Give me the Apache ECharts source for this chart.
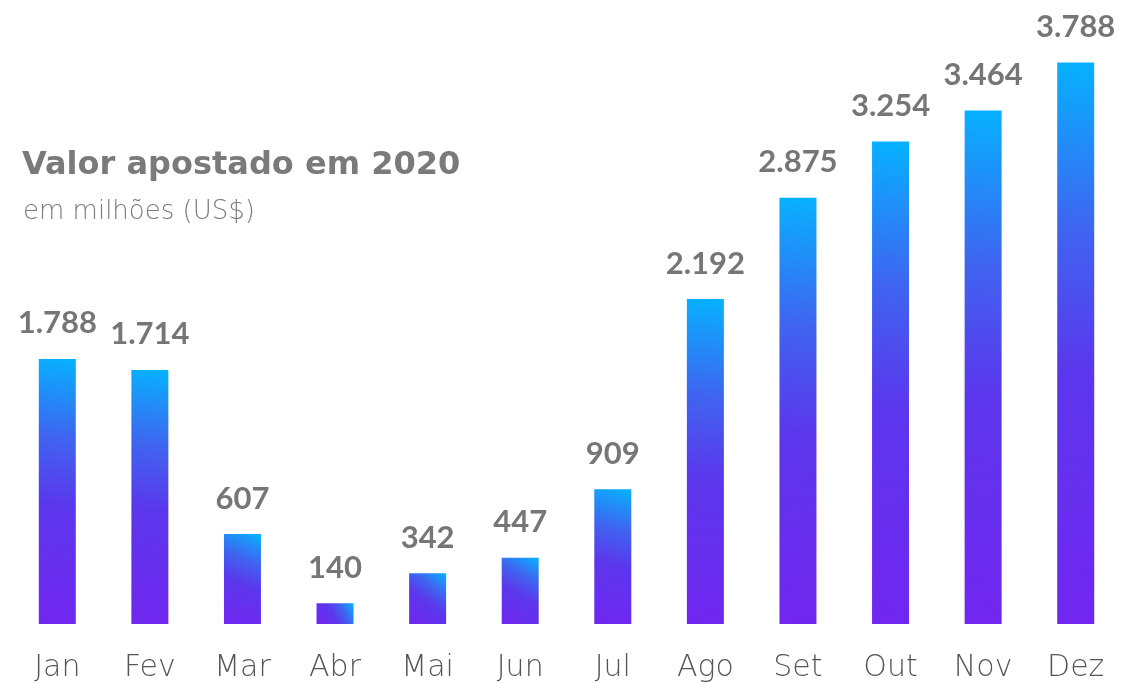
<!DOCTYPE html>
<html>
<head>
<meta charset="utf-8">
<script src="https://cdn.jsdelivr.net/npm/echarts@6/dist/echarts.min.js"></script>
<style>
  html, body { margin: 0; padding: 0; background: #fff; }
  #chart { width: 1122px; height: 683px; }
</style>
</head>
<body>
<div id="chart"></div>
<script>
const months = ['Jan', 'Fev', 'Mar', 'Abr', 'Mai', 'Jun', 'Jul', 'Ago', 'Set', 'Out', 'Nov', 'Dez'];
const valores = [1788, 1714, 607, 140, 342, 447, 909, 2192, 2875, 3254, 3464, 3788];

const chart = echarts.init(document.getElementById('chart'), null, { renderer: 'canvas' });

// thousands with a dot, like the original (1.788)
function fmt(v) {
  return String(v).replace(/\B(?=(\d{3})+(?!\d))/g, '.');
}

const thin = "'DejaVu Sans ExtraLight', 'DejaVu Sans'";

const option = {
  animation: false,
  title: [{
    text: 'Valor apostado em 2020',
    left: 17,
    top: 145,
    textStyle: { fontFamily: 'DejaVu Sans', fontWeight: 'bold', fontSize: 32, color: '#7a7a7a' }
  }, {
    text: 'em milhões (US$)',
    left: 18,
    top: 194,
    textStyle: { fontFamily: thin, fontWeight: 200, fontSize: 26, color: '#7c7c7c' }
  }],
  grid: { left: 11, right: 0, top: 31, bottom: 59 },
  xAxis: {
    type: 'category',
    data: months,
    axisLine: { show: false },
    axisTick: { show: false },
    axisLabel: {
      margin: 29,
      fontFamily: thin,
      fontWeight: 200,
      fontSize: 30,
      color: '#555555'
    }
  },
  yAxis: {
    type: 'value',
    min: 0,
    max: 4000,
    show: false,
    splitLine: { show: false }
  },
  series: [{
    type: 'bar',
    data: valores,
    barWidth: 37,
    itemStyle: {
      color: new echarts.graphic.LinearGradient(0, 1, 1, 0, [
        { offset: 0, color: '#7126ef' },
        { offset: 0.45, color: '#5b37ec' },
        { offset: 0.7, color: '#3f64f0' },
        { offset: 1, color: '#06b2ff' }
      ])
    },
    label: {
      show: true,
      position: 'top',
      distance: 20,
      fontFamily: 'Lato',
      fontWeight: 'bold',
      fontSize: 31,
      color: '#767676',
      formatter: p => fmt(p.value)
    }
  }]
};

chart.setOption(option);
window.addEventListener('resize', chart.resize);
</script>
</body>
</html>
